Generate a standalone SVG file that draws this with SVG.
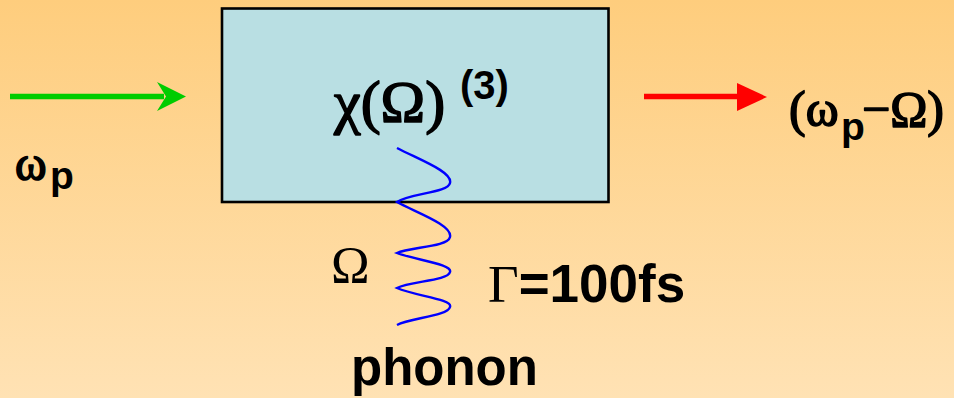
<svg xmlns="http://www.w3.org/2000/svg" width="954" height="398" viewBox="0 0 954 398">
<defs>
<linearGradient id="bg" x1="0" y1="0" x2="0" y2="1">
<stop offset="0" stop-color="#FECD7D"/>
<stop offset="1" stop-color="#FFE2B4"/>
</linearGradient>
<style>
.serif{font-family:"Liberation Serif","Times New Roman",serif;fill:#000}
.sans{font-family:"Liberation Sans",Arial,sans-serif;font-weight:bold;fill:#000;stroke:none}
.b{stroke:#000;stroke-width:1.6;stroke-linejoin:round}
</style>
</defs>
<rect x="0" y="0" width="954" height="398" fill="url(#bg)"/>
<g id="chi-box">
<rect x="222" y="8.5" width="386.5" height="193.5" fill="#B9DFE3" stroke="#000" stroke-width="2.6"/>
<text class="serif b" x="334" y="122" font-size="60">χ(Ω)</text>
<text class="sans" x="460" y="99" font-size="40">(3)</text>
</g>
<g id="input-label">
<text class="serif b" x="15" y="180" font-size="48">ω</text>
<text class="sans" x="50" y="189" font-size="39">p</text>
</g>
<g id="output-label">
<text class="serif b" x="789" y="126" font-size="50">(ω</text>
<text class="sans" x="841" y="140" font-size="39">p</text>
<text class="serif b" x="862" y="126" font-size="50">−Ω)</text>
</g>
<g id="phonon-labels">
<text class="serif" x="331" y="283" font-size="52">Ω</text>
<text class="serif" x="488" y="302" font-size="53">Γ<tspan class="sans">=100fs</tspan></text>
<text class="sans" x="351" y="385" font-size="51">phonon</text>
</g>
<g id="connectors">
<line x1="10" y1="96.5" x2="164" y2="96.5" stroke="#00CC00" stroke-width="5.5"/>
<polygon points="186,96.5 157,82 166,96.5 157,111" fill="#00CC00"/>
<line x1="644" y1="96.5" x2="740" y2="96.5" stroke="#FF0000" stroke-width="5.5"/>
<polygon points="767,97 737,83 737,111" fill="#FF0000"/>
<path d="M397,148 C420,160 453,172 450,183 C448,193 410,193 397,202 C415,212 453,225 450,237 C448,247 410,247 397,253 C415,260 453,264 450,272 C448,281 410,281 397,288 C415,296 453,299 450,307 C448,316 410,318 397,325" fill="none" stroke="#0000FF" stroke-width="2.4"/>
</g>
</svg>
